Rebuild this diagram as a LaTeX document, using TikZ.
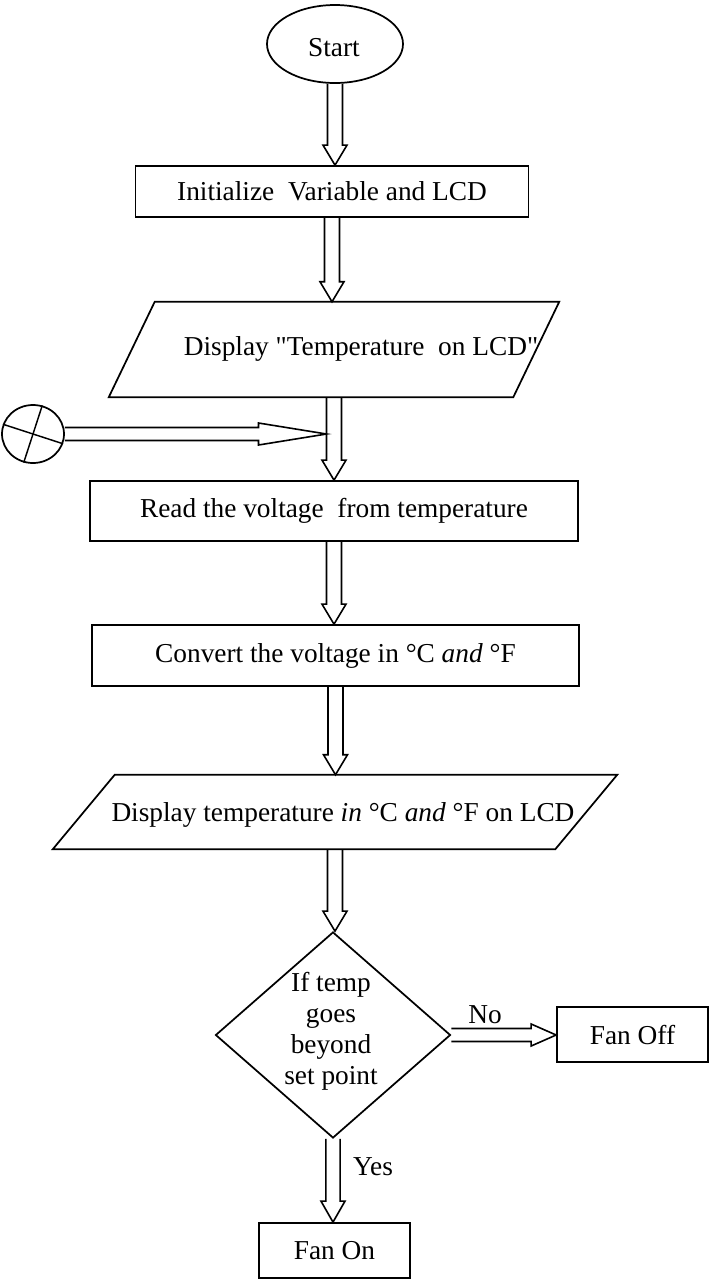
\documentclass[tikz,border=0pt]{standalone}
\usepackage{fontspec}
\newfontfamily\diagfont{Liberation Serif}
\usetikzlibrary{shapes.geometric,calc}
\tikzset{
  ba sw/.store in=\basw, ba hw/.store in=\bahw, ba hl/.store in=\bahl,
  ba sw=5.6pt, ba hw=9pt, ba hl=15pt,
  arrowline/.style={draw=black, line width=1.2pt, line join=miter},
  shp/.style={draw=black, line width=1.3pt},
  box/.style={shp, rectangle, inner sep=0pt, align=center},
  ghost/.style={draw=none, inner sep=0pt},
  txt/.style={inner sep=0pt, align=center}
}
\newcommand\barrow[3][]{%
  \draw[arrowline,#1] let \p1=(#2), \p2=(#3),
    \n1={veclen(\x2-\x1,\y2-\y1)},
    \n2={(\x2-\x1)/\n1}, \n3={(\y2-\y1)/\n1} in
    ({\x1-(\n3)*\basw}, {\y1+(\n2)*\basw})
    -- ({\x2-(\n2)*\bahl-(\n3)*\basw}, {\y2-(\n3)*\bahl+(\n2)*\basw})
    -- ({\x2-(\n2)*\bahl-(\n3)*\bahw}, {\y2-(\n3)*\bahl+(\n2)*\bahw})
    -- (\x2,\y2)
    -- ({\x2-(\n2)*\bahl+(\n3)*\bahw}, {\y2-(\n3)*\bahl-(\n2)*\bahw})
    -- ({\x2-(\n2)*\bahl+(\n3)*\basw}, {\y2-(\n3)*\bahl-(\n2)*\basw})
    -- ({\x1+(\n3)*\basw}, {\y1-(\n2)*\basw});}
\begin{document}
\begin{tikzpicture}[x=0.75pt,y=-0.75pt,font=\diagfont\fontsize{20.5pt}{23.3pt}\selectfont]
\useasboundingbox (0,0) rectangle (709,1279);
% nodes
\node[shp, ellipse, minimum width=102pt, minimum height=58.5pt, inner sep=0pt] (start) at (335,44) {};
\node[txt] (startt) at (334,48) {Start};
\node[box, minimum width=294.75pt, minimum height=38.25pt] (init) at (332,191.5) {Initialize\ \ Variable and LCD};
\node[ghost, minimum width=303pt, minimum height=71.25pt] (p1) at (334,349.5) {};
\draw[shp] ($(p1.north west)+(23,0)$) -- ($(p1.north east)+(23,0)$) -- ($(p1.south east)+(-23,0)$) -- ($(p1.south west)+(-23,0)$) -- cycle;
\node[txt] (p1t) at (361,349) {Display "Temperature\ \ on LCD"};
\node[shp, ellipse, minimum width=46.5pt, minimum height=43.5pt, inner sep=0pt] (conn) at (33,434) {};
\draw[shp, line width=1.1pt] (conn.162) -- (conn.342);
\draw[shp, line width=1.1pt] (conn.72) -- (conn.252);
\coordinate (join) at (326.5,434);
\node[box, minimum width=366pt, minimum height=45pt] (read) at (334,511) {Read the voltage\ \ from temperature};
\node[box, minimum width=365.25pt, minimum height=45.75pt] (conv) at (335.5,655.5) {Convert the voltage in °C \textit{and} °F};
\node[ghost, minimum width=376.5pt, minimum height=55.5pt] (p2) at (335,812) {};
\draw[shp] ($(p2.north west)+(31,0)$) -- ($(p2.north east)+(31,0)$) -- ($(p2.south east)+(-31,0)$) -- ($(p2.south west)+(-31,0)$) -- cycle;
\node[txt] (p2t) at (343,815) {Display temperature \textit{in} °C \textit{and} °F on LCD};
\node[shp, diamond, minimum width=176.25pt, minimum height=154.5pt, inner sep=0pt] (dia) at (333,1035) {};
\node[txt] (diat) at (331,1031) {If temp\\goes\\beyond\\set point};
\node[box, minimum width=113.25pt, minimum height=41.25pt] (fanoff) at (632.5,1034.5) {Fan Off};
\node[box, minimum width=113.25pt, minimum height=41.25pt] (fanon) at (334.5,1250.5) {Fan On};
\node[txt] (no) at (485,1015) {No};
\node[txt] (yes) at (373,1167) {Yes};
% connectors
\barrow{start.south}{start.south |- init.north}
\barrow{init.south}{init.south |- p1.north}
\barrow[ba sw=4.9pt, ba hw=8.25pt, ba hl=51pt]{conn.east}{join}
\barrow{p1.south}{p1.south |- read.north}
\barrow{read.south}{read.south |- conv.north}
\barrow{conv.south}{conv.south |- p2.north}
\barrow{p2.south}{p2.south |- dia.north}
\barrow[ba sw=4.9pt, ba hw=8.25pt, ba hl=18.75pt]{dia.east}{dia.east -| fanoff.west}
\barrow[ba sw=5.3pt, ba hw=9pt, ba hl=15.75pt]{dia.south}{dia.south |- fanon.north}
\end{tikzpicture}
\end{document}
